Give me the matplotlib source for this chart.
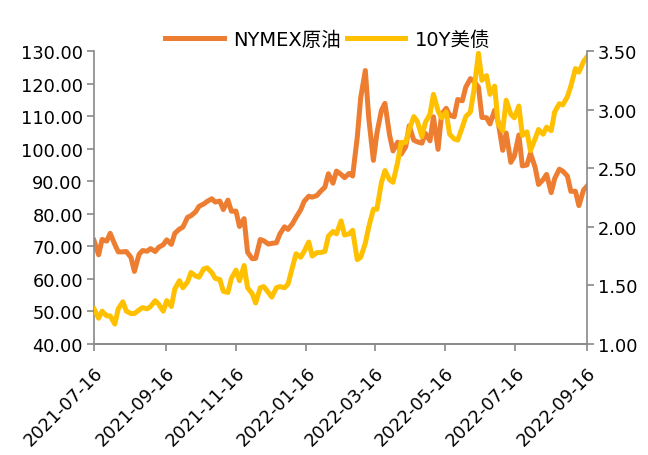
import matplotlib
matplotlib.use("Agg")
import matplotlib.pyplot as plt
import numpy as np
import pandas as pd

plt.rcParams['font.family'] = ['DejaVu Sans', 'Noto Sans CJK SC']

# Twice-weekly observations (Tue / Fri), first point Fri 2021-07-16
start_friday = "2021-07-16"
first_tuesday = "2021-07-20"

# NYMEX crude: first value = Fri 7/16, then pairs [Tue, Fri] per week
crude_first = 71.8
crude_pairs = [
    [67.4, 72.1], [71.6, 74.0], [70.6, 68.3], [68.3, 68.4], [66.6, 62.3],
    [67.5, 68.7], [68.5, 69.3], [68.4, 69.7], [70.5, 72.0], [70.6, 74.0],
    [75.3, 75.9], [78.9, 79.4], [80.6, 82.3], [83.0, 83.8], [84.6, 83.6],
    [83.9, 81.3], [84.2, 80.8], [80.8, 76.1], [78.5, 68.2], [66.2, 66.3],
    [72.1, 71.7], [70.7, 70.9], [71.1, 73.8], [76.0, 75.2],
    [77.0, 78.9], [81.2, 83.8], [85.4, 85.1], [85.6, 86.8], [88.2, 92.3],
    [89.4, 93.1], [92.1, 91.1], [92.4, 91.6], [103.4, 115.7], [124.0, 109.3],
    [96.4, 104.7], [111.8, 113.9], [104.2, 99.3], [102.0, 98.3], [100.6, 107.0],
    [102.6, 102.1], [101.7, 104.7], [102.4, 109.8], [99.8, 110.5], [112.4, 110.3],
    [109.8, 115.1], [114.7, 118.9], [121.5, 120.7], [118.9, 109.6], [109.5, 107.6],
    [111.8, 108.4], [99.5, 104.8], [95.8, 97.6], [104.2, 94.7], [95.0, 98.6],
    [94.4, 89.0], [90.5, 92.1], [86.5, 90.8], [93.7, 93.1], [91.6, 86.9],
    [86.9, 82.5], [87.3, 88.5],
]

# 10Y US Treasury yield (%)
ust_first = 1.30
ust_pairs = [
    [1.22, 1.28], [1.24, 1.24], [1.17, 1.30], [1.36, 1.28], [1.26, 1.26],
    [1.29, 1.31], [1.30, 1.32], [1.37, 1.34], [1.28, 1.37], [1.32, 1.47],
    [1.54, 1.48], [1.53, 1.61], [1.58, 1.57], [1.64, 1.65], [1.61, 1.56],
    [1.55, 1.45], [1.44, 1.56], [1.63, 1.54], [1.67, 1.48], [1.43, 1.35],
    [1.48, 1.49], [1.44, 1.40], [1.48, 1.49], [1.48, 1.51],
    [1.66, 1.77], [1.74, 1.79], [1.87, 1.75], [1.78, 1.78], [1.79, 1.92],
    [1.96, 1.94], [2.05, 1.93], [1.94, 1.97], [1.72, 1.74], [1.86, 2.00],
    [2.15, 2.15], [2.38, 2.48], [2.40, 2.38], [2.55, 2.72], [2.72, 2.83],
    [2.94, 2.90], [2.77, 2.89], [2.96, 3.13], [2.99, 2.93], [2.98, 2.79],
    [2.75, 2.74], [2.85, 2.94], [2.98, 3.16], [3.48, 3.25], [3.29, 3.13],
    [3.20, 2.88], [2.82, 3.08], [2.96, 2.93], [3.03, 2.78], [2.81, 2.65],
    [2.75, 2.83], [2.79, 2.85], [2.82, 2.98], [3.05, 3.04], [3.11, 3.20],
    [3.35, 3.32], [3.41, 3.45],
]

x_ticks = ["2021-07-16", "2021-09-16", "2021-11-16", "2022-01-16",
           "2022-03-16", "2022-05-16", "2022-07-16", "2022-09-16"]
left_ticks = [40, 50, 60, 70, 80, 90, 100, 110, 120, 130]
right_ticks = [1.0, 1.5, 2.0, 2.5, 3.0, 3.5]
series_names = ["NYMEX原油", "10Y美债"]

# build dates
n_weeks = len(crude_pairs)
t0 = pd.Timestamp(first_tuesday)
dates = [pd.Timestamp(start_friday)]
for k in range(n_weeks):
    dates.append(t0 + pd.Timedelta(days=7 * k))
    dates.append(t0 + pd.Timedelta(days=7 * k + 3))
crude = [crude_first] + [v for p in crude_pairs for v in p]
ust = [ust_first] + [v for p in ust_pairs for v in p]

orange = "#ED7D31"
yellow = "#FFC000"
gray = "#898989"

fig = plt.figure(figsize=(6.48, 4.56), dpi=100)
ax = fig.add_axes([94 / 648, 1 - 345 / 456, 493 / 648, 293 / 456])
ax2 = ax.twinx()

l1, = ax.plot(dates, crude, color=orange, lw=3.6, solid_joinstyle='round', label=series_names[0])
l2, = ax2.plot(dates, ust, color=yellow, lw=3.6, solid_joinstyle='round', label=series_names[1])

ax.set_xlim(pd.Timestamp(x_ticks[0]), pd.Timestamp(x_ticks[-1]))
ax.set_ylim(40, 130)
ax2.set_ylim(1.0, 3.5)
ax.set_yticks(left_ticks)
ax.set_yticklabels([f"{v:.2f}" for v in left_ticks])
ax2.set_yticks(right_ticks)
ax2.set_yticklabels([f"{v:.2f}" for v in right_ticks])
ax.set_xticks([pd.Timestamp(d) for d in x_ticks])
ax.set_xticklabels(x_ticks, rotation=45, ha='right', rotation_mode='anchor')

fs = 12.8
for a in (ax, ax2):
    a.tick_params(axis='both', labelsize=fs, colors=gray, labelcolor='black',
                  length=5, width=1.2, direction='out', pad=3)
    a.spines['top'].set_visible(False)
    for s in ('left', 'right', 'bottom'):
        a.spines[s].set_color(gray)
        a.spines[s].set_linewidth(1.2)
ax.tick_params(axis='x', pad=9)
ax.spines['right'].set_visible(False)
ax2.spines['left'].set_visible(False)

fig.legend(handles=[l1, l2], loc='center', bbox_to_anchor=(328 / 648, 1 - 40 / 456),
           ncol=2, frameon=False, fontsize=14, handlelength=3.0, handletextpad=0.5,
           columnspacing=0.3, borderpad=0)

fig.savefig("out.png", dpi=100)
